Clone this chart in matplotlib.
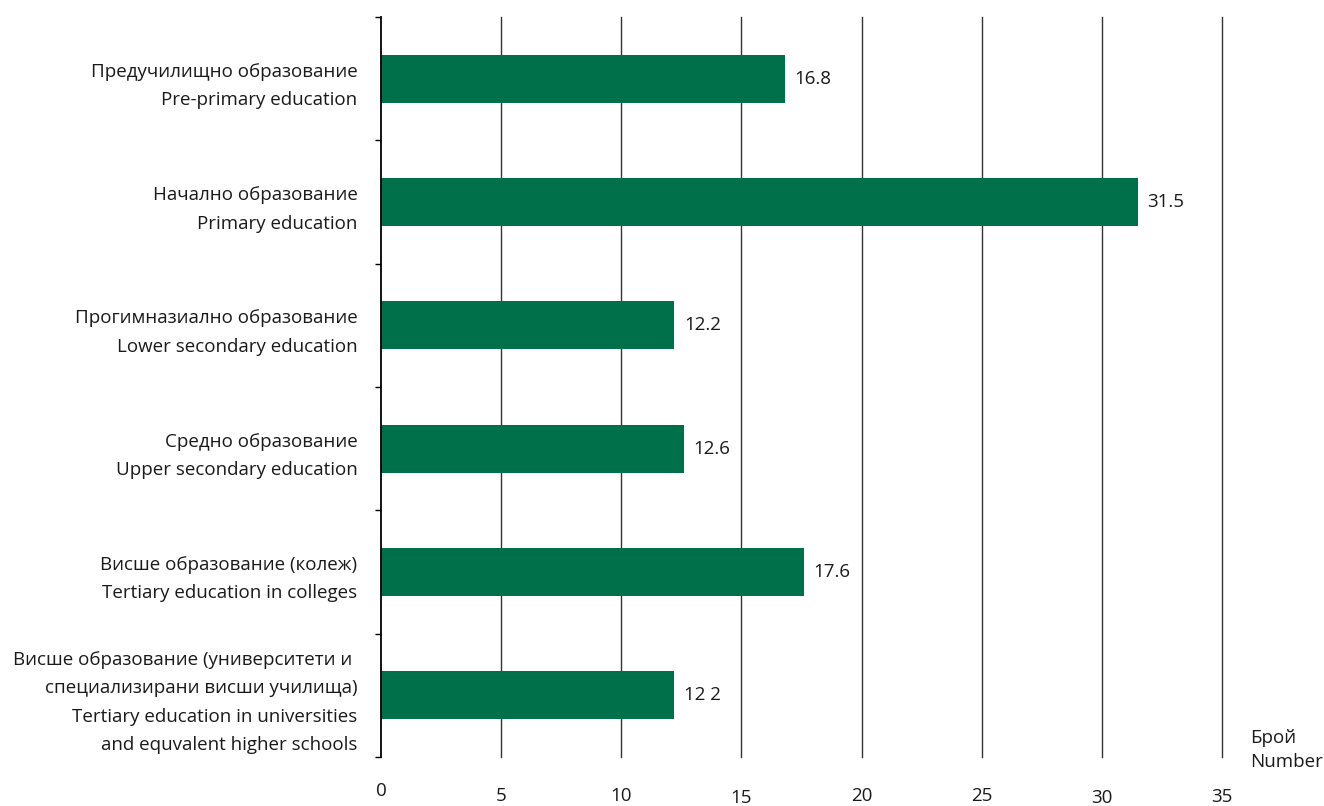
import matplotlib.pyplot as plt
from matplotlib.transforms import offset_copy
import numpy as np

plt.rcParams['font.family'] = ['Open Sans', 'DejaVu Sans']

categories = [
    'Предучилищно образование\nPre-primary education',
    'Начално образование\nPrimary education',
    'Прогимназиално образование\nLower secondary education',
    'Средно образование\nUpper secondary education',
    'Висше образование (колеж)\nTertiary education in colleges',
    'Висше образование (университети и \nспециализирани висши училища)\n'
    'Tertiary education in universities\nand equvalent higher schools',
]
values = [16.8, 31.5, 12.2, 12.6, 17.6, 12.2]
value_labels = ['16.8', '31.5', '12.2', '12.6', '17.6', '12 2']
xticks = [0, 5, 10, 15, 20, 25, 30, 35]
# the source drops the tick labels at slightly uneven heights (px)
xtick_shift = [-5, 0, 0, 2, 0, 0, 2, 1]

green = '#00704A'
txt = '#1a1a1a'
fs = 13.5

fig = plt.figure(figsize=(13.24, 8.06), dpi=100)
ax = fig.add_axes([0.2878, 0.0608, 0.6352, 0.9181])

y = np.arange(len(categories))
ax.barh(y, values, height=0.39, color=green, zorder=3)
ax.set_ylim(len(categories) - 0.5, -0.5)
ax.set_xlim(0, 35)

for yi, v, lab in zip(y, values, value_labels):
    ax.text(v + 0.4, yi, lab, va='center', ha='left', fontsize=fs, color=txt)

# vertical grid lines
for xt in xticks[1:]:
    ax.axvline(xt, color='#333333', lw=1.0, zorder=1, clip_on=False)

for s in ['top', 'right', 'bottom']:
    ax.spines[s].set_visible(False)
ax.spines['left'].set_linewidth(1.3)
ax.spines['left'].set_zorder(4)

ax.set_yticks(y)
ax.set_yticklabels(categories, fontsize=fs, linespacing=1.75, color=txt)
ax.tick_params(axis='y', which='major', length=0, pad=17)
ax.set_yticks(np.arange(-0.5, len(categories), 1.0), minor=True)
ax.tick_params(axis='y', which='minor', length=4, width=1.0, direction='out')

ax.set_xticks(xticks)
ax.set_xticklabels([])
ax.tick_params(axis='x', length=0)
base = ax.get_xaxis_transform()
for xt, dy in zip(xticks, xtick_shift):
    tr = offset_copy(base, fig=fig, x=0, y=-(30 + dy), units='dots')
    ax.text(xt, 0, str(xt), transform=tr, ha='center', va='top',
            fontsize=fs, color=txt)

fig.text(0.944, 0.043, 'Брой\nNumber', fontsize=fs, ha='left', va='bottom',
         linespacing=1.45, color=txt)

fig.savefig('out.png', dpi=100)
